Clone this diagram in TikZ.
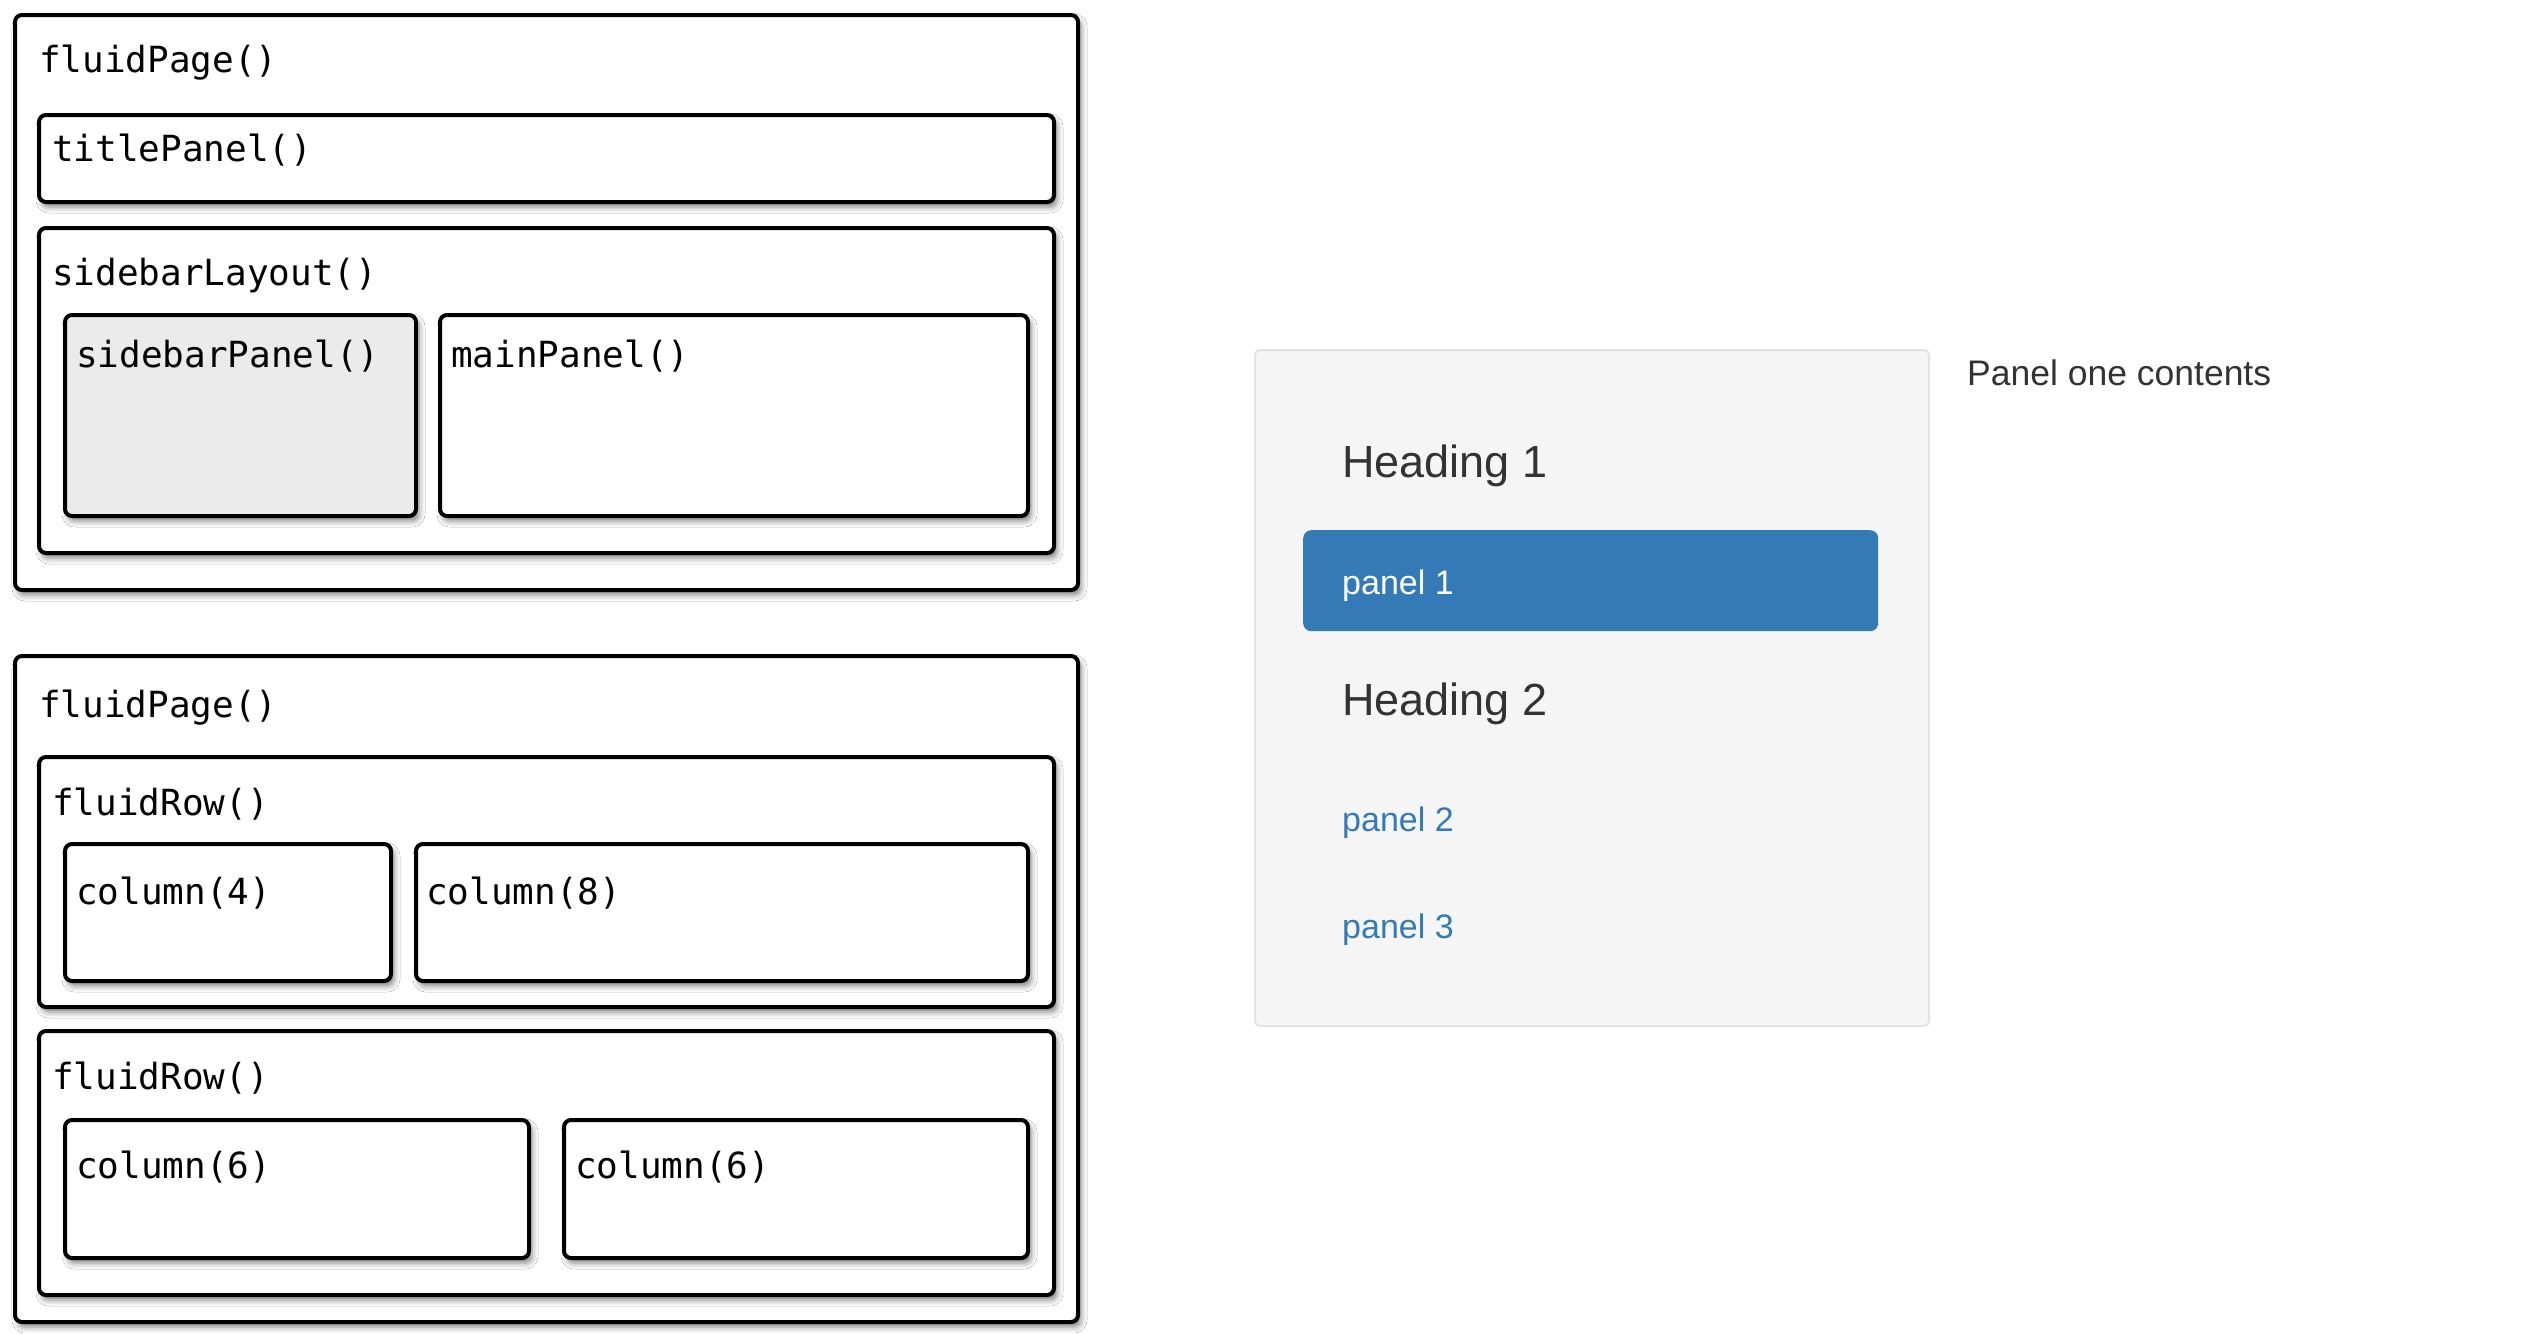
\documentclass[tikz,border=0pt]{standalone}
\usepackage{fontspec}
\setmainfont{Liberation Sans}
\newfontfamily\codefont{DejaVu Sans Mono}
\usetikzlibrary{shadows.blur}
\definecolor{bsblue}{HTML}{337AB7}
\definecolor{bstext}{HTML}{333333}
\definecolor{wellfill}{HTML}{F5F5F5}
\definecolor{welldraw}{HTML}{E3E3E3}
\definecolor{sidefill}{HTML}{EBEBEB}
\begin{document}
\begin{tikzpicture}[x=1pt,y=-1pt,
  box/.style={draw=black, line width=4pt, rounded corners=7pt, fill=white,
    blur shadow={shadow xshift=3pt, shadow yshift=-5pt, shadow blur radius=6pt, shadow opacity=50},
    inner sep=0pt, anchor=north west},
  code/.style={font=\codefont\fontsize{36}{40}\selectfont, anchor=base west, inner sep=0pt, text=black},
  heading/.style={font=\fontsize{45}{50}\selectfont, anchor=base west, inner sep=0pt, text=bstext},
  navtext/.style={font=\fontsize{34}{40}\selectfont, anchor=base west, inner sep=0pt},
]
\useasboundingbox (0,0) rectangle (2534,1333);
\fill[white] (0,0) rectangle (2534,1333);

% ---------- top layout ----------
\node[box, minimum width=1063pt, minimum height=575pt] (page1) at (13,13) {};
\node[code] (page1lbl) at (39,72) {fluidPage()};
\node[box, minimum width=1015pt, minimum height=87pt] (title) at (37,113) {};
\node[code] (titlelbl) at (52,161) {titlePanel()};
\node[box, minimum width=1015pt, minimum height=325pt] (sblayout) at (37,226) {};
\node[code] (sblayoutlbl) at (52,285) {sidebarLayout()};
\node[box, fill=sidefill, minimum width=351pt, minimum height=201pt] (sbpanel) at (63,313) {};
\node[code] (sbpanellbl) at (76,367) {sidebarPanel()};
\node[box, minimum width=588pt, minimum height=201pt] (mainpanel) at (438,313) {};
\node[code] (mainpanellbl) at (451,367) {mainPanel()};

% ---------- bottom layout ----------
\node[box, minimum width=1063pt, minimum height=666pt] (page2) at (13,654) {};
\node[code] (page2lbl) at (39,717) {fluidPage()};
\node[box, minimum width=1015pt, minimum height=250pt] (row1) at (37,755) {};
\node[code] (row1lbl) at (52,815) {fluidRow()};
\node[box, minimum width=326pt, minimum height=137pt] (col4) at (63,842) {};
\node[code] (col4lbl) at (76,904) {column(4)};
\node[box, minimum width=612pt, minimum height=137pt] (col8) at (414,842) {};
\node[code] (col8lbl) at (426,904) {column(8)};
\node[box, minimum width=1015pt, minimum height=264pt] (row2) at (37,1029) {};
\node[code] (row2lbl) at (52,1089) {fluidRow()};
\node[box, minimum width=464pt, minimum height=138pt] (col6a) at (63,1118) {};
\node[code] (col6albl) at (76,1178) {column(6)};
\node[box, minimum width=464pt, minimum height=138pt] (col6b) at (562,1118) {};
\node[code] (col6blbl) at (575,1178) {column(6)};

% ---------- rendered app ----------
\node[draw=welldraw, fill=wellfill, line width=2pt, rounded corners=5pt, inner sep=0pt,
      anchor=north west, minimum width=674pt, minimum height=676pt] (well) at (1254,349) {};
\node[fill=bsblue, rounded corners=8pt, inner sep=0pt, anchor=north west,
      minimum width=575pt, minimum height=101pt] (pill) at (1303,530) {};
\node[heading] (h1) at (1342,477) {Heading 1};
\node[navtext, text=white] (p1) at (1342,594) {panel 1};
\node[heading] (h2) at (1342,715) {Heading 2};
\node[navtext, text=bsblue] (p2) at (1342,831) {panel 2};
\node[navtext, text=bsblue] (p3) at (1342,938) {panel 3};
\node[font=\fontsize{35.5}{40}\selectfont, anchor=base west, inner sep=0pt, text=bstext] (contents) at (1967,385) {Panel one contents};
\end{tikzpicture}
\end{document}
